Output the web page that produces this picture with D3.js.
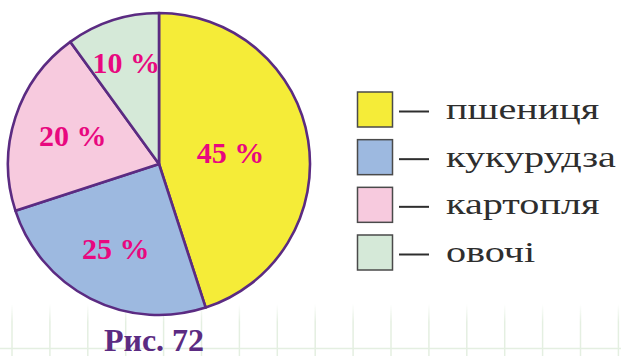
<!DOCTYPE html>
<html>
<head>
<meta charset="utf-8">
<script src="https://cdn.jsdelivr.net/npm/d3@7"></script>
<style>
  html, body { margin: 0; padding: 0; background: #fff; }
  svg { display: block; }
</style>
</head>
<body>
<svg id="chart" width="621" height="356"></svg>
<script>
// Crop shares, in percent
const crops = ["пшениця", "кукурудза", "картопля", "овочі"];
const shares = [45, 25, 20, 10];
const fills = ["#f5ec38", "#9db9e0", "#f7cade", "#d5e9d8"];
const caption = "Рис. 72";

// Layout
const W = 621, H = 356;
const cx = 159, cy = 164, R = 151;
const labelRadius = [0.48, 0.63, 0.6, 0.7];   // label distance as a fraction of R
const outline = "#5b2b82";
const accent = "#e8087f";
const serif = "Liberation Serif";

const svg = d3.select("#chart");

// Faint graph-paper grid along the bottom edge
const defs = svg.append("defs");
const grad = defs.append("linearGradient")
  .attr("id", "gridFade").attr("x1", 0).attr("y1", 0).attr("x2", 0).attr("y2", 1);
grad.append("stop").attr("offset", "0%").attr("stop-color", "#fff").attr("stop-opacity", 0);
grad.append("stop").attr("offset", "35%").attr("stop-color", "#fff").attr("stop-opacity", 1);
grad.append("stop").attr("offset", "100%").attr("stop-color", "#fff").attr("stop-opacity", 1);
defs.append("mask").attr("id", "gridMask")
  .append("rect").attr("x", 0).attr("y", 304).attr("width", W).attr("height", H - 304)
  .attr("fill", "url(#gridFade)");

const grid = svg.append("g").attr("mask", "url(#gridMask)")
  .attr("stroke", "#e4efe1").attr("stroke-width", 1.5);
const gx = d3.range(12, W, 37.9);
grid.selectAll("line.v").data(gx).join("line").attr("class", "v")
  .attr("x1", d => d).attr("x2", d => d).attr("y1", 304).attr("y2", H);
grid.append("line").attr("x1", 0).attr("x2", W).attr("y1", 348.5).attr("y2", 348.5);

// Pie
const pie = d3.pie().sort(null).value(d => d.value);
const arcs = pie(shares.map((v, i) => ({ value: v, i })));
const arc = d3.arc().innerRadius(0).outerRadius(R);

const g = svg.append("g").attr("transform", `translate(${cx},${cy})`);
g.selectAll("path").data(arcs).join("path")
  .attr("d", arc)
  .attr("fill", d => fills[d.data.i])
  .attr("stroke", outline)
  .attr("stroke-width", 2.6)
  .attr("stroke-linejoin", "round");

g.selectAll("text").data(arcs).join("text")
  .attr("transform", d => {
    const a = (d.startAngle + d.endAngle) / 2;
    const r = R * labelRadius[d.data.i];
    return `translate(${r * Math.sin(a)},${-r * Math.cos(a)})`;
  })
  .attr("text-anchor", "middle")
  .attr("dy", "0.33em")
  .attr("font-family", serif)
  .attr("font-weight", "bold")
  .attr("font-size", 30)
  .attr("fill", accent)
  .text(d => `${d.data.value} %`);

// Legend
const legend = svg.append("g");
const rowY = d3.scalePoint().domain(crops).range([110, 253]);
const rows = legend.selectAll("g").data(crops).join("g")
  .attr("transform", d => `translate(0,${rowY(d)})`);
rows.append("rect")
  .attr("x", 357.5).attr("y", -18).attr("width", 35).attr("height", 35)
  .attr("fill", (d, i) => fills[i])
  .attr("stroke", "#4a4a4a").attr("stroke-width", 1.5);
rows.append("line")
  .attr("x1", 399).attr("x2", 429).attr("y1", 1.5).attr("y2", 1.5)
  .attr("stroke", "#2e2e2e").attr("stroke-width", 2);
// wide schoolbook-style lettering: regular serif stretched horizontally
rows.append("text")
  .attr("transform", "translate(446,9) scale(1.34,1)")
  .attr("font-family", serif)
  .attr("font-size", 30)
  .attr("fill", "#2e2e2e")
  .text(d => d);

// Figure caption
svg.append("text")
  .attr("x", 154).attr("y", 351)
  .attr("text-anchor", "middle")
  .attr("font-family", serif)
  .attr("font-weight", "bold")
  .attr("font-size", 32)
  .attr("fill", outline)
  .text(caption);
</script>
</body>
</html>
